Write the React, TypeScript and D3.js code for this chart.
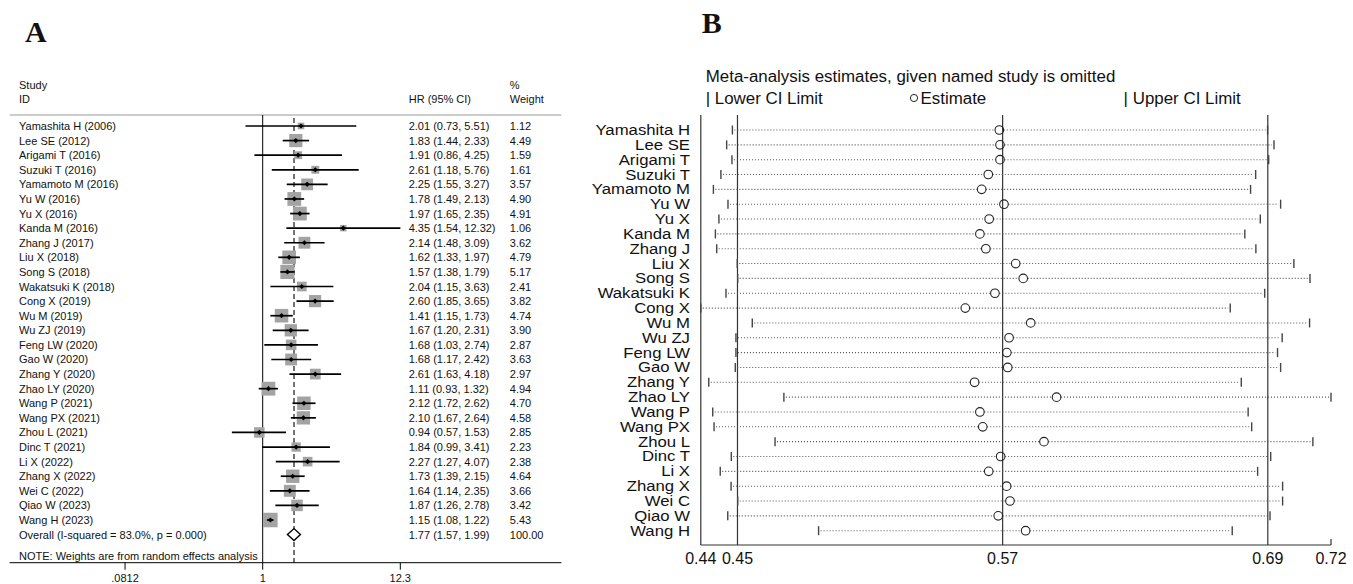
import React from "react";
import * as d3 from "d3";

// ---------- Panel A data ----------
const studyNames = [
  "Yamashita H (2006)", "Lee SE (2012)", "Arigami T (2016)", "Suzuki T (2016)",
  "Yamamoto M (2016)", "Yu W (2016)", "Yu X (2016)", "Kanda M (2016)",
  "Zhang J (2017)", "Liu X (2018)", "Song S (2018)", "Wakatsuki K (2018)",
  "Cong X (2019)", "Wu M (2019)", "Wu ZJ (2019)", "Feng LW (2020)",
  "Gao W (2020)", "Zhang Y (2020)", "Zhao LY (2020)", "Wang P (2021)",
  "Wang PX (2021)", "Zhou L (2021)", "Dinc T (2021)", "Li X (2022)",
  "Zhang X (2022)", "Wei C (2022)", "Qiao W (2023)", "Wang H (2023)",
];
const hrValues = [2.01, 1.83, 1.91, 2.61, 2.25, 1.78, 1.97, 4.35, 2.14, 1.62, 1.57, 2.04, 2.60, 1.41, 1.67, 1.68, 1.68, 2.61, 1.11, 2.12, 2.10, 0.94, 1.84, 2.27, 1.73, 1.64, 1.87, 1.15];
const hrLower = [0.73, 1.44, 0.86, 1.18, 1.55, 1.49, 1.65, 1.54, 1.48, 1.33, 1.38, 1.15, 1.85, 1.15, 1.20, 1.03, 1.17, 1.63, 0.93, 1.72, 1.67, 0.57, 0.99, 1.27, 1.39, 1.14, 1.26, 1.08];
const hrUpper = [5.51, 2.33, 4.25, 5.76, 3.27, 2.13, 2.35, 12.32, 3.09, 1.97, 1.79, 3.63, 3.65, 1.73, 2.31, 2.74, 2.42, 4.18, 1.32, 2.62, 2.64, 1.53, 3.41, 4.07, 2.15, 2.35, 2.78, 1.22];
const weights = [1.12, 4.49, 1.59, 1.61, 3.57, 4.90, 4.91, 1.06, 3.62, 4.79, 5.17, 2.41, 3.82, 4.74, 3.90, 2.87, 3.63, 2.97, 4.94, 4.70, 4.58, 2.85, 2.23, 2.38, 4.64, 3.66, 3.42, 5.43];
const overallLabel = "Overall  (I-squared = 83.0%, p = 0.000)";
const overallHR = 1.77;
const overallLower = 1.57;
const overallUpper = 1.99;
const overallWeight = 100.0;
const axisATicks = [0.0812, 1, 12.3];
const axisATickLabels = [".0812", "1", "12.3"];

// ---------- Panel B data (log HR, study omitted) ----------
const omitNames = [
  "Yamashita H", "Lee SE", "Arigami T", "Suzuki T", "Yamamoto M", "Yu W", "Yu X",
  "Kanda M", "Zhang J", "Liu X", "Song S", "Wakatsuki K", "Cong X", "Wu M", "Wu ZJ",
  "Feng LW", "Gao W", "Zhang Y", "Zhao LY", "Wang P", "Wang PX", "Zhou L", "Dinc T",
  "Li X", "Zhang X", "Wei C", "Qiao W", "Wang H",
];
const omitLower = [0.4487, 0.4461, 0.4485, 0.4435, 0.4401, 0.4467, 0.4426, 0.4410, 0.4416, 0.4509, 0.4511, 0.4458, 0.4344, 0.4577, 0.4503, 0.4503, 0.4500, 0.4380, 0.4720, 0.4398, 0.4404, 0.4680, 0.4482, 0.4432, 0.4481, 0.4511, 0.4466, 0.4877];
const omitEstimate = [0.5695, 0.5698, 0.5698, 0.5645, 0.5615, 0.5716, 0.5649, 0.5607, 0.5634, 0.5769, 0.5803, 0.5675, 0.5541, 0.5837, 0.5739, 0.5729, 0.5733, 0.5583, 0.5954, 0.5607, 0.5620, 0.5897, 0.5701, 0.5647, 0.5728, 0.5743, 0.5690, 0.5814];
const omitUpper = [0.6909, 0.6938, 0.6914, 0.6855, 0.6832, 0.6968, 0.6876, 0.6806, 0.6856, 0.7028, 0.7101, 0.6896, 0.6740, 0.7099, 0.6975, 0.6954, 0.6968, 0.6790, 0.7196, 0.6821, 0.6837, 0.7114, 0.6923, 0.6864, 0.6977, 0.6977, 0.6920, 0.6749];
const refLinesB = [0.4510, 0.5710, 0.6910];
const axisBTickLabels = ["0.44", "0.45", "0.57", "0.69", "0.72"];
const titleB = "Meta-analysis estimates, given named study is omitted";

const SANS = "'Liberation Sans', Arial, Helvetica, sans-serif";
const SERIF = "'Liberation Serif', 'Times New Roman', serif";

function PanelA() {
  const x = d3.scaleLog().domain([1 / 12.3, 12.3]).range([125.1, 400.3]);
  const rows = [...studyNames, "__overall"];
  const y = d3.scalePoint<string>().domain(rows).range([126, 534.6]);
  const maxW = d3.max(weights) as number;
  const side = d3.scaleSqrt().domain([0, maxW]).range([0, 14.5]);
  const fmt = d3.format(".2f");
  const left = 9.6;
  const right = 561.4;
  const axisY = 562.7;
  const topY = 115;
  const textX = 19;
  const hrX = 408.7;
  const wX = 509.8;
  const yo = y("__overall") as number;

  return (
    <g fontFamily={SANS} fontSize={11} fill="#111">
      <text x={25} y={42} fontFamily={SERIF} fontWeight="bold" fontSize={30}>A</text>
      <text x={textX} y={89}>Study</text>
      <text x={textX} y={103}>ID</text>
      <text x={hrX} y={103}>HR (95% CI)</text>
      <text x={wX} y={89}>%</text>
      <text x={wX} y={103}>Weight</text>
      <line x1={left} x2={right} y1={topY} y2={topY} stroke="#999" strokeWidth={1} />
      <line x1={x(1)} x2={x(1)} y1={topY} y2={axisY} stroke="#000" strokeWidth={1} />
      <line x1={x(overallHR)} x2={x(overallHR)} y1={topY + 3} y2={axisY} stroke="#000" strokeWidth={1.1} strokeDasharray="5,3" />
      {studyNames.map((n, i) => {
        const cy = y(n) as number;
        const s = side(weights[i]);
        const cx = x(hrValues[i]);
        return (
          <g key={n}>
            <rect x={cx - s / 2} y={cy - s / 2} width={s} height={s} fill="#a3a3a3" />
            <line x1={x(hrLower[i])} x2={x(hrUpper[i])} y1={cy} y2={cy} stroke="#000" strokeWidth={1.7} />
            <path d={`M${cx - 2.6},${cy} L${cx},${cy - 2.6} L${cx + 2.6},${cy} L${cx},${cy + 2.6} Z`} fill="#000" />
            <text x={textX} y={cy + 4}>{n}</text>
            <text x={hrX} y={cy + 4}>{`${fmt(hrValues[i])} (${fmt(hrLower[i])}, ${fmt(hrUpper[i])})`}</text>
            <text x={wX} y={cy + 4}>{fmt(weights[i])}</text>
          </g>
        );
      })}
      <path
        d={`M${x(overallLower)},${yo} L${x(overallHR)},${yo - 6} L${x(overallUpper)},${yo} L${x(overallHR)},${yo + 6} Z`}
        fill="#fff" stroke="#000" strokeWidth={1.4}
      />
      <text x={textX} y={yo + 4}>{overallLabel}</text>
      <text x={hrX} y={yo + 4}>{`${fmt(overallHR)} (${fmt(overallLower)}, ${fmt(overallUpper)})`}</text>
      <text x={wX} y={yo + 4}>{fmt(overallWeight)}</text>
      <text x={textX} y={560}>NOTE: Weights are from random effects analysis</text>
      <line x1={left} x2={right} y1={axisY} y2={axisY} stroke="#000" strokeWidth={1} />
      {axisATicks.map((t, i) => (
        <g key={t}>
          <line x1={x(t)} x2={x(t)} y1={axisY} y2={axisY + 7} stroke="#000" strokeWidth={1} />
          <text x={x(t)} y={582} textAnchor="middle">{axisATickLabels[i]}</text>
        </g>
      ))}
    </g>
  );
}

function PanelB() {
  const lo = d3.min(omitLower) as number;
  const hi = d3.max(omitUpper) as number;
  const x = d3.scaleLinear().domain([lo, hi]).range([700.8, 1331]);
  const y = d3.scalePoint<string>().domain(omitNames).range([130, 530.7]);
  const topY = 115;
  const axisY = 545;
  const tickVals = [lo, ...refLinesB, hi];
  return (
    <g fontFamily={SANS} fill="#111">
      <text x={701.7} y={32.7} fontFamily={SERIF} fontWeight="bold" fontSize={30}>B</text>
      <text transform="translate(705.7,82) scale(1.07,1)" fontSize={15.8}>{titleB}</text>
      <g fontSize={15.8}>
        <text transform="translate(705.7,103.5) scale(1.07,1)">| Lower CI Limit</text>
        <circle cx={914} cy={98} r={3.6} fill="none" stroke="#222" strokeWidth={1} />
        <text transform="translate(920.5,103.5) scale(1.07,1)">Estimate</text>
        <text transform="translate(1123.6,103.5) scale(1.07,1)">| Upper CI Limit</text>
      </g>
      <line x1={x(lo)} x2={x(lo)} y1={topY} y2={axisY} stroke="#333" strokeWidth={1.2} />
      {refLinesB.map((r) => (
        <line key={r} x1={x(r)} x2={x(r)} y1={topY} y2={axisY} stroke="#333" strokeWidth={1.2} />
      ))}
      {omitNames.map((n, i) => {
        const cy = y(n) as number;
        const xl = x(omitLower[i]);
        const xe = x(omitEstimate[i]);
        const xu = x(omitUpper[i]);
        return (
          <g key={n}>
            <line x1={xl + 2} x2={xe - 4.5} y1={cy} y2={cy} stroke="#555" strokeWidth={1.1} strokeDasharray="1,2" />
            <line x1={xe + 4.5} x2={xu - 2} y1={cy} y2={cy} stroke="#555" strokeWidth={1.1} strokeDasharray="1,2" />
            <line x1={xl} x2={xl} y1={cy - 4.5} y2={cy + 4.5} stroke="#444" strokeWidth={1.4} />
            <line x1={xu} x2={xu} y1={cy - 4.5} y2={cy + 4.5} stroke="#444" strokeWidth={1.4} />
            <circle cx={xe} cy={cy} r={4.3} fill="none" stroke="#222" strokeWidth={1.1} />
            <text transform={`translate(690,${cy + 5}) scale(1.08,1)`} textAnchor="end" fontSize={15.5}>{n}</text>
          </g>
        );
      })}
      <line x1={x(lo)} x2={x(hi)} y1={axisY} y2={axisY} stroke="#333" strokeWidth={1.2} />
      <line x1={x(hi)} x2={x(hi)} y1={axisY - 6} y2={axisY} stroke="#333" strokeWidth={1.2} />
      {tickVals.map((t, i) => (
        <text key={i} x={x(t)} y={563.5} textAnchor="middle" fontSize={16}>{axisBTickLabels[i]}</text>
      ))}
    </g>
  );
}

export default function App() {
  return (
    <svg
      width={1353}
      height={584}
      viewBox="0 0 1353 584"
      style={{ position: "absolute", left: 0, top: 0, background: "#fff" }}
    >
      <rect x={0} y={0} width={1353} height={584} fill="#fff" />
      <PanelA />
      <PanelB />
    </svg>
  );
}
